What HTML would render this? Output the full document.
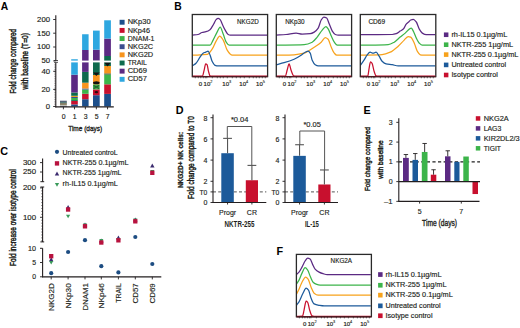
<!DOCTYPE html>
<html><head><meta charset="utf-8"><style>
html,body{margin:0;padding:0;background:#fff;}
svg{display:block;font-family:"Liberation Sans", sans-serif;}
</style></head><body>
<svg width="520" height="328" viewBox="0 0 520 328">
<rect width="520" height="328" fill="#fff"/>
<text x="0.80" y="9.60" font-size="10.3" text-anchor="start" fill="#000" font-weight="bold" >A</text>
<rect x="60.00" y="105.80" width="6.80" height="0.70" fill="#1b2a44"/>
<rect x="60.00" y="105.20" width="6.80" height="0.60" fill="#e8e4dc"/>
<rect x="60.00" y="104.30" width="6.80" height="0.90" fill="#4a4a48"/>
<rect x="60.00" y="103.50" width="6.80" height="0.80" fill="#b5a040"/>
<rect x="60.00" y="102.50" width="6.80" height="1.00" fill="#2a2f3a"/>
<rect x="60.00" y="101.80" width="6.80" height="0.70" fill="#1f6a5a"/>
<rect x="60.00" y="100.75" width="6.80" height="1.05" fill="#3a4660"/>
<rect x="71.20" y="104.40" width="6.60" height="2.10" fill="#1d4f8b"/>
<rect x="71.20" y="101.00" width="6.60" height="3.40" fill="#c8102e"/>
<rect x="71.20" y="100.10" width="6.60" height="0.90" fill="#0e6a4d"/>
<rect x="71.20" y="98.00" width="6.60" height="2.10" fill="#3cb44a"/>
<rect x="71.20" y="97.00" width="6.60" height="1.00" fill="#3b4d8f"/>
<rect x="71.20" y="95.80" width="6.60" height="1.20" fill="#e8a020"/>
<rect x="71.20" y="92.50" width="6.60" height="3.30" fill="#0e6a4d"/>
<rect x="71.20" y="74.70" width="6.60" height="17.80" fill="#5b2a83"/>
<rect x="71.20" y="59.25" width="6.60" height="15.45" fill="#2ea7e0"/>
<rect x="82.10" y="99.20" width="6.50" height="7.30" fill="#1d4f8b"/>
<rect x="82.10" y="93.80" width="6.50" height="5.40" fill="#c8102e"/>
<rect x="82.10" y="89.50" width="6.50" height="4.30" fill="#3cb44a"/>
<rect x="82.10" y="88.50" width="6.50" height="1.00" fill="#3b4d8f"/>
<rect x="82.10" y="82.70" width="6.50" height="5.80" fill="#f7941d"/>
<rect x="82.10" y="71.90" width="6.50" height="10.80" fill="#0e6a4d"/>
<rect x="82.10" y="50.00" width="6.50" height="21.90" fill="#5b2a83"/>
<rect x="82.10" y="34.25" width="6.50" height="15.75" fill="#2ea7e0"/>
<rect x="93.00" y="95.20" width="6.70" height="11.30" fill="#1d4f8b"/>
<rect x="93.00" y="89.40" width="6.70" height="5.80" fill="#c8102e"/>
<rect x="93.00" y="84.30" width="6.70" height="5.10" fill="#3cb44a"/>
<rect x="93.00" y="75.00" width="6.70" height="9.30" fill="#f7941d"/>
<rect x="93.00" y="60.60" width="6.70" height="14.40" fill="#0e6a4d"/>
<rect x="93.00" y="49.70" width="6.70" height="10.90" fill="#5b2a83"/>
<rect x="93.00" y="30.60" width="6.70" height="19.10" fill="#2ea7e0"/>
<rect x="104.20" y="93.90" width="6.70" height="12.60" fill="#1d4f8b"/>
<rect x="104.20" y="84.30" width="6.70" height="9.60" fill="#c8102e"/>
<rect x="104.20" y="74.50" width="6.70" height="9.80" fill="#3cb44a"/>
<rect x="104.20" y="73.40" width="6.70" height="1.10" fill="#2a4a30"/>
<rect x="104.20" y="66.00" width="6.70" height="7.40" fill="#f7941d"/>
<rect x="104.20" y="56.00" width="6.70" height="10.00" fill="#0e6a4d"/>
<rect x="104.20" y="38.60" width="6.70" height="17.40" fill="#5b2a83"/>
<rect x="104.20" y="20.30" width="6.70" height="18.30" fill="#2ea7e0"/>
<path d="M93,72.6 L99.7,72.6 L96.35,76.0 Z" fill="#121212"/>
<ellipse cx="96.35" cy="82.7" rx="3.3" ry="1.5" fill="#121212"/>
<path d="M93.6,85.4 L99.1,88.6 M99.1,85.4 L93.6,88.6" stroke="#1a3a22" stroke-width="1.2" opacity="0.7"/>
<ellipse cx="96.35" cy="92.1" rx="1.8" ry="1.2" fill="#2a0a10"/>
<path d="M104.2,62.6 L110.9,62.6 L107.55,66.6 Z" fill="#121212"/>
<rect x="56.50" y="60.60" width="60.00" height="1.80" fill="#fff"/>
<line x1="55.80" y1="15.30" x2="55.80" y2="60.60" stroke="#231f20" stroke-width="1.1" />
<line x1="55.80" y1="62.40" x2="55.80" y2="107.40" stroke="#231f20" stroke-width="1.1" />
<line x1="55.30" y1="106.90" x2="113.80" y2="106.90" stroke="#231f20" stroke-width="1.1" />
<line x1="54.00" y1="60.50" x2="58.00" y2="60.50" stroke="#231f20" stroke-width="0.8" />
<line x1="54.00" y1="62.30" x2="58.00" y2="62.30" stroke="#231f20" stroke-width="0.8" />
<line x1="53.20" y1="19.50" x2="55.80" y2="19.50" stroke="#231f20" stroke-width="0.9" />
<text x="50.00" y="21.95" font-size="6.9" text-anchor="end" fill="#231f20" stroke="#231f20" stroke-width="0.15" textLength="12.899999999999999" lengthAdjust="spacingAndGlyphs" >200</text>
<line x1="53.20" y1="33.20" x2="55.80" y2="33.20" stroke="#231f20" stroke-width="0.9" />
<text x="50.00" y="35.65" font-size="6.9" text-anchor="end" fill="#231f20" stroke="#231f20" stroke-width="0.15" textLength="12.899999999999999" lengthAdjust="spacingAndGlyphs" >150</text>
<line x1="53.20" y1="47.00" x2="55.80" y2="47.00" stroke="#231f20" stroke-width="0.9" />
<text x="50.00" y="49.45" font-size="6.9" text-anchor="end" fill="#231f20" stroke="#231f20" stroke-width="0.15" textLength="12.899999999999999" lengthAdjust="spacingAndGlyphs" >100</text>
<line x1="53.20" y1="60.90" x2="55.80" y2="60.90" stroke="#231f20" stroke-width="0.9" />
<text x="50.00" y="63.35" font-size="6.9" text-anchor="end" fill="#231f20" stroke="#231f20" stroke-width="0.15" textLength="8.6" lengthAdjust="spacingAndGlyphs" >50</text>
<line x1="53.20" y1="71.30" x2="55.80" y2="71.30" stroke="#231f20" stroke-width="0.9" />
<text x="50.00" y="73.75" font-size="6.9" text-anchor="end" fill="#231f20" stroke="#231f20" stroke-width="0.15" textLength="8.6" lengthAdjust="spacingAndGlyphs" >40</text>
<line x1="53.20" y1="89.40" x2="55.80" y2="89.40" stroke="#231f20" stroke-width="0.9" />
<text x="50.00" y="91.85" font-size="6.9" text-anchor="end" fill="#231f20" stroke="#231f20" stroke-width="0.15" textLength="8.6" lengthAdjust="spacingAndGlyphs" >20</text>
<line x1="53.20" y1="106.50" x2="55.80" y2="106.50" stroke="#231f20" stroke-width="0.9" />
<text x="50.00" y="108.95" font-size="6.9" text-anchor="end" fill="#231f20" stroke="#231f20" stroke-width="0.15" textLength="4.3" lengthAdjust="spacingAndGlyphs" >0</text>
<line x1="54.40" y1="104.74" x2="55.80" y2="104.74" stroke="#231f20" stroke-width="0.5" />
<line x1="54.40" y1="102.98" x2="55.80" y2="102.98" stroke="#231f20" stroke-width="0.5" />
<line x1="54.40" y1="101.22" x2="55.80" y2="101.22" stroke="#231f20" stroke-width="0.5" />
<line x1="54.40" y1="99.46" x2="55.80" y2="99.46" stroke="#231f20" stroke-width="0.5" />
<line x1="54.40" y1="97.70" x2="55.80" y2="97.70" stroke="#231f20" stroke-width="0.5" />
<line x1="54.40" y1="95.94" x2="55.80" y2="95.94" stroke="#231f20" stroke-width="0.5" />
<line x1="54.40" y1="94.18" x2="55.80" y2="94.18" stroke="#231f20" stroke-width="0.5" />
<line x1="54.40" y1="92.42" x2="55.80" y2="92.42" stroke="#231f20" stroke-width="0.5" />
<line x1="54.40" y1="90.66" x2="55.80" y2="90.66" stroke="#231f20" stroke-width="0.5" />
<line x1="54.40" y1="88.90" x2="55.80" y2="88.90" stroke="#231f20" stroke-width="0.5" />
<line x1="54.40" y1="87.14" x2="55.80" y2="87.14" stroke="#231f20" stroke-width="0.5" />
<line x1="54.40" y1="85.38" x2="55.80" y2="85.38" stroke="#231f20" stroke-width="0.5" />
<line x1="54.40" y1="83.62" x2="55.80" y2="83.62" stroke="#231f20" stroke-width="0.5" />
<line x1="54.40" y1="81.86" x2="55.80" y2="81.86" stroke="#231f20" stroke-width="0.5" />
<line x1="54.40" y1="80.10" x2="55.80" y2="80.10" stroke="#231f20" stroke-width="0.5" />
<line x1="54.40" y1="78.34" x2="55.80" y2="78.34" stroke="#231f20" stroke-width="0.5" />
<line x1="54.40" y1="76.58" x2="55.80" y2="76.58" stroke="#231f20" stroke-width="0.5" />
<line x1="54.40" y1="74.82" x2="55.80" y2="74.82" stroke="#231f20" stroke-width="0.5" />
<line x1="54.40" y1="73.06" x2="55.80" y2="73.06" stroke="#231f20" stroke-width="0.5" />
<line x1="54.40" y1="71.30" x2="55.80" y2="71.30" stroke="#231f20" stroke-width="0.5" />
<line x1="54.40" y1="69.54" x2="55.80" y2="69.54" stroke="#231f20" stroke-width="0.5" />
<line x1="54.40" y1="67.78" x2="55.80" y2="67.78" stroke="#231f20" stroke-width="0.5" />
<line x1="54.40" y1="66.02" x2="55.80" y2="66.02" stroke="#231f20" stroke-width="0.5" />
<line x1="54.40" y1="64.26" x2="55.80" y2="64.26" stroke="#231f20" stroke-width="0.5" />
<line x1="63.40" y1="106.90" x2="63.40" y2="109.30" stroke="#231f20" stroke-width="0.9" />
<text x="63.60" y="119.20" font-size="6.9" text-anchor="middle" fill="#231f20" stroke="#231f20" stroke-width="0.15" >0</text>
<line x1="74.50" y1="106.90" x2="74.50" y2="109.30" stroke="#231f20" stroke-width="0.9" />
<text x="74.70" y="119.20" font-size="6.9" text-anchor="middle" fill="#231f20" stroke="#231f20" stroke-width="0.15" >1</text>
<line x1="85.35" y1="106.90" x2="85.35" y2="109.30" stroke="#231f20" stroke-width="0.9" />
<text x="85.55" y="119.20" font-size="6.9" text-anchor="middle" fill="#231f20" stroke="#231f20" stroke-width="0.15" >3</text>
<line x1="96.35" y1="106.90" x2="96.35" y2="109.30" stroke="#231f20" stroke-width="0.9" />
<text x="96.55" y="119.20" font-size="6.9" text-anchor="middle" fill="#231f20" stroke="#231f20" stroke-width="0.15" >5</text>
<line x1="107.55" y1="106.90" x2="107.55" y2="109.30" stroke="#231f20" stroke-width="0.9" />
<text x="107.75" y="119.20" font-size="6.9" text-anchor="middle" fill="#231f20" stroke="#231f20" stroke-width="0.15" >7</text>
<text x="85.20" y="131.00" font-size="8.1" text-anchor="middle" fill="#231f20" stroke="#231f20" stroke-width="0.35" textLength="34" lengthAdjust="spacingAndGlyphs" >Time (days)</text>
<text x="16.00" y="61.25" font-size="8.6" text-anchor="middle" fill="#231f20" stroke="#231f20" stroke-width="0.45" textLength="64.7" lengthAdjust="spacingAndGlyphs" transform="rotate(-90 16.00 61.25)" >Fold change compared</text>
<text x="27.60" y="61.25" font-size="8.6" text-anchor="middle" fill="#231f20" stroke="#231f20" stroke-width="0.45" textLength="56.5" lengthAdjust="spacingAndGlyphs" transform="rotate(-90 27.60 61.25)" >with baseline (T=0)</text>
<rect x="119.60" y="19.80" width="5.00" height="4.90" fill="#1d4f8b"/>
<text x="127.70" y="24.35" font-size="6.6" text-anchor="start" fill="#231f20" stroke="#231f20" stroke-width="0.15" textLength="22.9" lengthAdjust="spacingAndGlyphs" >NKp30</text>
<rect x="119.60" y="27.95" width="5.00" height="4.90" fill="#c8102e"/>
<text x="127.70" y="32.50" font-size="6.6" text-anchor="start" fill="#231f20" stroke="#231f20" stroke-width="0.15" textLength="22.3" lengthAdjust="spacingAndGlyphs" >NKp46</text>
<rect x="119.60" y="36.10" width="5.00" height="4.90" fill="#3cb44a"/>
<text x="127.70" y="40.65" font-size="6.6" text-anchor="start" fill="#231f20" stroke="#231f20" stroke-width="0.15" textLength="26.7" lengthAdjust="spacingAndGlyphs" >DNAM-1</text>
<rect x="119.60" y="44.25" width="5.00" height="4.90" fill="#3b4d8f"/>
<text x="127.70" y="48.80" font-size="6.6" text-anchor="start" fill="#231f20" stroke="#231f20" stroke-width="0.15" textLength="25.4" lengthAdjust="spacingAndGlyphs" >NKG2C</text>
<rect x="119.60" y="52.40" width="5.00" height="4.90" fill="#f7941d"/>
<text x="127.70" y="56.95" font-size="6.6" text-anchor="start" fill="#231f20" stroke="#231f20" stroke-width="0.15" textLength="25.4" lengthAdjust="spacingAndGlyphs" >NKG2D</text>
<rect x="119.60" y="60.55" width="5.00" height="4.90" fill="#0e6a4d"/>
<text x="127.70" y="65.10" font-size="6.6" text-anchor="start" fill="#231f20" stroke="#231f20" stroke-width="0.15" textLength="19.2" lengthAdjust="spacingAndGlyphs" >TRAIL</text>
<rect x="119.60" y="68.70" width="5.00" height="4.90" fill="#5b2a83"/>
<text x="127.70" y="73.25" font-size="6.6" text-anchor="start" fill="#231f20" stroke="#231f20" stroke-width="0.15" textLength="19.2" lengthAdjust="spacingAndGlyphs" >CD69</text>
<rect x="119.60" y="76.85" width="5.00" height="4.90" fill="#2ea7e0"/>
<text x="127.70" y="81.40" font-size="6.6" text-anchor="start" fill="#231f20" stroke="#231f20" stroke-width="0.15" textLength="19.2" lengthAdjust="spacingAndGlyphs" >CD57</text>
<text x="174.30" y="9.85" font-size="10.3" text-anchor="start" fill="#000" font-weight="bold" >B</text>
<path d="M192.40,35.10 C194.27,34.90 196.13,34.84 198.00,34.50 C199.33,34.26 200.67,32.88 202.00,32.50 C203.33,32.12 204.67,32.08 206.00,31.70 C207.33,31.32 208.67,30.71 210.00,29.70 C211.23,28.76 212.47,26.08 213.70,24.00 C214.50,22.65 215.30,20.31 216.10,19.60 C216.77,19.01 217.43,18.40 218.10,18.40 C218.80,18.40 219.50,18.96 220.20,19.60 C220.87,20.21 221.53,22.59 222.20,24.00 C223.20,26.12 224.20,28.40 225.20,30.10 C226.20,31.80 227.20,34.02 228.20,34.50 C228.87,34.82 229.53,35.10 230.20,35.10 C242.47,35.10 254.73,35.10 267.00,35.10" fill="none" stroke="#5b2a83" stroke-width="1.25" stroke-linejoin="round"/>
<path d="M192.40,45.20 C198.30,45.20 204.20,45.20 210.10,45.20 C211.10,45.20 212.10,41.93 213.10,40.10 C214.43,37.66 215.77,34.47 217.10,32.10 C218.13,30.26 219.17,27.10 220.20,27.10 C221.20,27.10 222.20,31.60 223.20,34.10 C224.20,36.60 225.20,40.74 226.20,42.20 C227.20,43.66 228.20,45.20 229.20,45.20 C241.80,45.20 254.40,45.20 267.00,45.20" fill="none" stroke="#3cb44a" stroke-width="1.25" stroke-linejoin="round"/>
<path d="M192.40,55.20 C197.30,54.93 202.20,54.99 207.10,54.40 C208.77,54.20 210.43,51.52 212.10,49.20 C213.43,47.35 214.77,43.29 216.10,41.10 C217.30,39.13 218.50,36.10 219.70,36.10 C220.87,36.10 222.03,38.28 223.20,40.10 C224.53,42.18 225.87,48.09 227.20,50.20 C228.53,52.31 229.87,54.38 231.20,54.80 C231.87,55.01 232.53,55.20 233.20,55.20 C244.47,55.20 255.73,55.20 267.00,55.20" fill="none" stroke="#f7a21b" stroke-width="1.25" stroke-linejoin="round"/>
<path d="M192.40,65.90 C193.60,65.03 194.80,64.47 196.00,63.30 C197.33,62.00 198.67,59.06 200.00,57.20 C201.03,55.76 202.07,53.80 203.10,53.20 C203.97,52.69 204.83,52.55 205.70,52.20 C206.50,51.88 207.30,51.20 208.10,51.20 C208.77,51.20 209.43,53.60 210.10,55.20 C210.77,56.80 211.43,59.92 212.10,61.20 C213.10,63.13 214.10,64.95 215.10,65.30 C216.10,65.65 217.10,65.90 218.10,65.90 C234.40,65.90 250.70,65.90 267.00,65.90" fill="none" stroke="#1c5a9a" stroke-width="1.25" stroke-linejoin="round"/>
<path d="M192.40,76.20 C195.77,76.13 199.13,76.17 202.50,76.00 C203.03,75.97 203.57,72.31 204.10,70.30 C204.63,68.29 205.17,63.90 205.70,63.90 C206.17,63.90 206.63,64.22 207.10,64.70 C207.57,65.18 208.03,69.62 208.50,71.30 C209.03,73.22 209.57,75.74 210.10,75.90 C210.73,76.09 211.37,76.20 212.00,76.20 C230.33,76.20 248.67,76.20 267.00,76.20" fill="none" stroke="#c8102e" stroke-width="1.25" stroke-linejoin="round"/>
<rect x="192.30" y="14.50" width="75.30" height="62.10" fill="none" stroke="#2a2a2a" stroke-width="1.3"/>
<line x1="192.30" y1="76.60" x2="267.60" y2="76.60" stroke="#5a1822" stroke-width="1.4" />
<text x="237.10" y="23.80" font-size="6.3" text-anchor="start" fill="#231f20" stroke="#231f20" stroke-width="0.15" textLength="21.6" lengthAdjust="spacingAndGlyphs" >NKG2D</text>
<path d="M276.00,35.10 C279.33,34.90 282.67,34.78 286.00,34.50 C289.37,34.22 292.73,33.10 296.10,33.10 C298.10,33.10 300.10,34.10 302.10,34.10 C304.80,34.10 307.50,33.96 310.20,33.70 C311.53,33.57 312.87,32.86 314.20,32.10 C315.53,31.34 316.87,30.09 318.20,28.10 C319.20,26.61 320.20,21.60 321.20,20.00 C322.07,18.61 322.93,17.00 323.80,17.00 C324.77,17.00 325.73,17.41 326.70,18.00 C327.57,18.53 328.43,22.07 329.30,24.10 C330.30,26.44 331.30,29.57 332.30,31.10 C333.30,32.63 334.30,34.16 335.30,34.50 C336.30,34.84 337.30,35.10 338.30,35.10 C342.53,35.10 346.77,35.10 351.00,35.10" fill="none" stroke="#5b2a83" stroke-width="1.25" stroke-linejoin="round"/>
<path d="M276.00,45.20 C285.40,45.00 294.80,45.05 304.20,44.60 C306.87,44.47 309.53,43.49 312.20,42.20 C313.87,41.39 315.53,39.07 317.20,37.10 C318.87,35.13 320.53,32.00 322.20,30.10 C323.43,28.70 324.67,26.50 325.90,26.50 C326.70,26.50 327.50,27.93 328.30,29.10 C329.30,30.56 330.30,33.93 331.30,36.10 C332.30,38.27 333.30,40.86 334.30,42.20 C335.30,43.54 336.30,45.20 337.30,45.20 C341.87,45.20 346.43,45.20 351.00,45.20" fill="none" stroke="#3cb44a" stroke-width="1.25" stroke-linejoin="round"/>
<path d="M276.00,55.20 C282.03,55.07 288.07,55.05 294.10,54.80 C297.47,54.66 300.83,54.04 304.20,53.20 C307.53,52.36 310.87,49.39 314.20,47.20 C316.53,45.67 318.87,44.26 321.20,42.20 C322.57,41.00 323.93,37.70 325.30,37.70 C326.17,37.70 327.03,38.36 327.90,39.10 C329.03,40.07 330.17,44.74 331.30,47.20 C332.30,49.37 333.30,52.04 334.30,53.20 C335.10,54.13 335.90,55.20 336.70,55.20 C341.47,55.20 346.23,55.20 351.00,55.20" fill="none" stroke="#f7a21b" stroke-width="1.25" stroke-linejoin="round"/>
<path d="M276.00,64.70 C278.70,64.03 281.40,63.48 284.10,62.70 C287.43,61.74 290.77,60.67 294.10,59.20 C296.43,58.17 298.77,56.71 301.10,55.20 C302.47,54.31 303.83,52.81 305.20,52.20 C306.20,51.75 307.20,51.20 308.20,51.20 C308.87,51.20 309.53,52.16 310.20,53.20 C310.87,54.24 311.53,58.76 312.20,60.20 C313.20,62.36 314.20,64.07 315.20,64.70 C316.20,65.33 317.20,65.90 318.20,65.90 C329.13,65.90 340.07,65.90 351.00,65.90" fill="none" stroke="#1c5a9a" stroke-width="1.25" stroke-linejoin="round"/>
<path d="M276.00,76.20 C279.17,76.13 282.33,76.17 285.50,76.00 C286.03,75.97 286.57,72.10 287.10,70.30 C287.77,68.05 288.43,63.90 289.10,63.90 C289.77,63.90 290.43,68.57 291.10,70.30 C291.97,72.55 292.83,75.69 293.70,75.90 C294.47,76.09 295.23,76.20 296.00,76.20 C314.33,76.20 332.67,76.20 351.00,76.20" fill="none" stroke="#c8102e" stroke-width="1.25" stroke-linejoin="round"/>
<rect x="276.30" y="14.50" width="75.30" height="62.10" fill="none" stroke="#2a2a2a" stroke-width="1.3"/>
<line x1="276.30" y1="76.60" x2="351.60" y2="76.60" stroke="#5a1822" stroke-width="1.4" />
<text x="285.20" y="23.80" font-size="6.3" text-anchor="start" fill="#231f20" stroke="#231f20" stroke-width="0.15" textLength="19.4" lengthAdjust="spacingAndGlyphs" >NKp30</text>
<path d="M360.40,34.70 C371.00,34.63 381.60,34.67 392.20,34.50 C393.53,34.48 394.87,34.11 396.20,33.70 C397.53,33.29 398.87,32.01 400.20,31.10 C401.40,30.28 402.60,29.78 403.80,28.50 C404.60,27.65 405.40,25.02 406.20,24.10 C407.03,23.14 407.87,22.76 408.70,22.00 C409.37,21.39 410.03,20.26 410.70,20.00 C411.57,19.67 412.43,19.40 413.30,19.40 C414.30,19.40 415.30,20.73 416.30,22.00 C417.30,23.27 418.30,27.39 419.30,29.10 C420.30,30.81 421.30,32.47 422.30,33.10 C423.63,33.94 424.97,34.70 426.30,34.70 C429.27,34.70 432.23,34.70 435.20,34.70" fill="none" stroke="#5b2a83" stroke-width="1.25" stroke-linejoin="round"/>
<path d="M360.40,45.20 C369.67,45.00 378.93,45.07 388.20,44.60 C390.20,44.50 392.20,43.29 394.20,42.20 C396.20,41.11 398.20,38.75 400.20,37.10 C401.87,35.73 403.53,34.57 405.20,33.10 C406.57,31.89 407.93,29.97 409.30,29.10 C409.97,28.67 410.63,28.10 411.30,28.10 C411.97,28.10 412.63,29.90 413.30,31.10 C414.30,32.90 415.30,36.13 416.30,38.10 C417.30,40.07 418.30,42.24 419.30,43.20 C420.30,44.16 421.30,45.20 422.30,45.20 C426.60,45.20 430.90,45.20 435.20,45.20" fill="none" stroke="#3cb44a" stroke-width="1.25" stroke-linejoin="round"/>
<path d="M360.40,55.20 C367.63,55.00 374.87,55.02 382.10,54.60 C384.80,54.44 387.50,53.35 390.20,52.20 C392.87,51.07 395.53,48.52 398.20,46.20 C400.20,44.46 402.20,41.98 404.20,40.10 C405.57,38.82 406.93,36.50 408.30,36.50 C409.10,36.50 409.90,36.77 410.70,37.10 C411.90,37.60 413.10,40.70 414.30,43.20 C415.30,45.29 416.30,49.54 417.30,51.20 C418.30,52.86 419.30,54.56 420.30,54.80 C421.30,55.04 422.30,55.20 423.30,55.20 C427.27,55.20 431.23,55.20 435.20,55.20" fill="none" stroke="#f7a21b" stroke-width="1.25" stroke-linejoin="round"/>
<path d="M360.40,65.30 C361.60,63.60 362.80,62.04 364.00,60.20 C365.00,58.66 366.00,56.43 367.00,55.20 C368.03,53.93 369.07,52.20 370.10,52.20 C371.10,52.20 372.10,53.20 373.10,53.20 C374.10,53.20 375.10,52.20 376.10,52.20 C377.10,52.20 378.10,54.72 379.10,56.20 C380.10,57.68 381.10,60.22 382.10,61.20 C383.43,62.51 384.77,63.59 386.10,63.90 C388.13,64.37 390.17,64.38 392.20,64.70 C394.20,65.02 396.20,65.90 398.20,65.90 C410.53,65.90 422.87,65.90 435.20,65.90" fill="none" stroke="#1c5a9a" stroke-width="1.25" stroke-linejoin="round"/>
<path d="M360.40,76.20 C362.87,76.13 365.33,76.17 367.80,76.00 C368.23,75.97 368.67,70.56 369.10,68.30 C369.57,65.87 370.03,61.80 370.50,61.80 C371.03,61.80 371.57,62.51 372.10,63.30 C372.77,64.29 373.43,69.35 374.10,71.30 C374.77,73.25 375.43,75.70 376.10,75.90 C376.73,76.09 377.37,76.20 378.00,76.20 C397.07,76.20 416.13,76.20 435.20,76.20" fill="none" stroke="#c8102e" stroke-width="1.25" stroke-linejoin="round"/>
<rect x="360.30" y="14.50" width="75.50" height="62.10" fill="none" stroke="#2a2a2a" stroke-width="1.3"/>
<line x1="360.30" y1="76.60" x2="435.80" y2="76.60" stroke="#5a1822" stroke-width="1.4" />
<text x="368.40" y="23.80" font-size="6.3" text-anchor="start" fill="#231f20" stroke="#231f20" stroke-width="0.15" textLength="16.7" lengthAdjust="spacingAndGlyphs" >CD69</text>
<line x1="195.30" y1="76.60" x2="195.30" y2="78.30" stroke="#231f20" stroke-width="0.6" />
<line x1="198.30" y1="76.60" x2="198.30" y2="78.30" stroke="#231f20" stroke-width="0.6" />
<line x1="200.80" y1="76.60" x2="200.80" y2="78.30" stroke="#231f20" stroke-width="0.6" />
<line x1="203.30" y1="76.60" x2="203.30" y2="78.30" stroke="#231f20" stroke-width="0.6" />
<line x1="205.30" y1="76.60" x2="205.30" y2="78.30" stroke="#231f20" stroke-width="0.6" />
<line x1="206.80" y1="76.60" x2="206.80" y2="78.30" stroke="#231f20" stroke-width="0.6" />
<line x1="212.30" y1="76.60" x2="212.30" y2="78.30" stroke="#231f20" stroke-width="0.6" />
<line x1="217.30" y1="76.60" x2="217.30" y2="78.30" stroke="#231f20" stroke-width="0.6" />
<line x1="220.30" y1="76.60" x2="220.30" y2="78.30" stroke="#231f20" stroke-width="0.6" />
<line x1="223.30" y1="76.60" x2="223.30" y2="78.30" stroke="#231f20" stroke-width="0.6" />
<line x1="227.30" y1="76.60" x2="227.30" y2="78.30" stroke="#231f20" stroke-width="0.6" />
<line x1="232.30" y1="76.60" x2="232.30" y2="78.30" stroke="#231f20" stroke-width="0.6" />
<line x1="236.30" y1="76.60" x2="236.30" y2="78.30" stroke="#231f20" stroke-width="0.6" />
<line x1="240.30" y1="76.60" x2="240.30" y2="78.30" stroke="#231f20" stroke-width="0.6" />
<line x1="244.30" y1="76.60" x2="244.30" y2="78.30" stroke="#231f20" stroke-width="0.6" />
<line x1="249.30" y1="76.60" x2="249.30" y2="78.30" stroke="#231f20" stroke-width="0.6" />
<line x1="253.30" y1="76.60" x2="253.30" y2="78.30" stroke="#231f20" stroke-width="0.6" />
<line x1="256.30" y1="76.60" x2="256.30" y2="78.30" stroke="#231f20" stroke-width="0.6" />
<line x1="259.30" y1="76.60" x2="259.30" y2="78.30" stroke="#231f20" stroke-width="0.6" />
<line x1="262.30" y1="76.60" x2="262.30" y2="78.30" stroke="#231f20" stroke-width="0.6" />
<line x1="265.30" y1="76.60" x2="265.30" y2="78.30" stroke="#231f20" stroke-width="0.6" />
<text x="198.80" y="85.50" font-size="6.0" fill="#231f20" stroke="#231f20" stroke-width="0.2">0</text>
<text x="203.60" y="85.50" font-size="6.0" fill="#231f20" stroke="#231f20" stroke-width="0.2">10<tspan font-size="3.9" dy="-2.7" stroke-width="0.1">2</tspan></text>
<text x="222.30" y="85.50" font-size="6.0" fill="#231f20" stroke="#231f20" stroke-width="0.2">10<tspan font-size="3.9" dy="-2.7" stroke-width="0.1">3</tspan></text>
<text x="239.30" y="85.50" font-size="6.0" fill="#231f20" stroke="#231f20" stroke-width="0.2">10<tspan font-size="3.9" dy="-2.7" stroke-width="0.1">4</tspan></text>
<text x="256.10" y="85.50" font-size="6.0" fill="#231f20" stroke="#231f20" stroke-width="0.2">10<tspan font-size="3.9" dy="-2.7" stroke-width="0.1">5</tspan></text>
<line x1="279.30" y1="76.60" x2="279.30" y2="78.30" stroke="#231f20" stroke-width="0.6" />
<line x1="282.30" y1="76.60" x2="282.30" y2="78.30" stroke="#231f20" stroke-width="0.6" />
<line x1="284.80" y1="76.60" x2="284.80" y2="78.30" stroke="#231f20" stroke-width="0.6" />
<line x1="287.30" y1="76.60" x2="287.30" y2="78.30" stroke="#231f20" stroke-width="0.6" />
<line x1="289.30" y1="76.60" x2="289.30" y2="78.30" stroke="#231f20" stroke-width="0.6" />
<line x1="290.80" y1="76.60" x2="290.80" y2="78.30" stroke="#231f20" stroke-width="0.6" />
<line x1="296.30" y1="76.60" x2="296.30" y2="78.30" stroke="#231f20" stroke-width="0.6" />
<line x1="301.30" y1="76.60" x2="301.30" y2="78.30" stroke="#231f20" stroke-width="0.6" />
<line x1="304.30" y1="76.60" x2="304.30" y2="78.30" stroke="#231f20" stroke-width="0.6" />
<line x1="307.30" y1="76.60" x2="307.30" y2="78.30" stroke="#231f20" stroke-width="0.6" />
<line x1="311.30" y1="76.60" x2="311.30" y2="78.30" stroke="#231f20" stroke-width="0.6" />
<line x1="316.30" y1="76.60" x2="316.30" y2="78.30" stroke="#231f20" stroke-width="0.6" />
<line x1="320.30" y1="76.60" x2="320.30" y2="78.30" stroke="#231f20" stroke-width="0.6" />
<line x1="324.30" y1="76.60" x2="324.30" y2="78.30" stroke="#231f20" stroke-width="0.6" />
<line x1="328.30" y1="76.60" x2="328.30" y2="78.30" stroke="#231f20" stroke-width="0.6" />
<line x1="333.30" y1="76.60" x2="333.30" y2="78.30" stroke="#231f20" stroke-width="0.6" />
<line x1="337.30" y1="76.60" x2="337.30" y2="78.30" stroke="#231f20" stroke-width="0.6" />
<line x1="340.30" y1="76.60" x2="340.30" y2="78.30" stroke="#231f20" stroke-width="0.6" />
<line x1="343.30" y1="76.60" x2="343.30" y2="78.30" stroke="#231f20" stroke-width="0.6" />
<line x1="346.30" y1="76.60" x2="346.30" y2="78.30" stroke="#231f20" stroke-width="0.6" />
<line x1="349.30" y1="76.60" x2="349.30" y2="78.30" stroke="#231f20" stroke-width="0.6" />
<text x="282.80" y="85.50" font-size="6.0" fill="#231f20" stroke="#231f20" stroke-width="0.2">0</text>
<text x="287.60" y="85.50" font-size="6.0" fill="#231f20" stroke="#231f20" stroke-width="0.2">10<tspan font-size="3.9" dy="-2.7" stroke-width="0.1">2</tspan></text>
<text x="306.30" y="85.50" font-size="6.0" fill="#231f20" stroke="#231f20" stroke-width="0.2">10<tspan font-size="3.9" dy="-2.7" stroke-width="0.1">3</tspan></text>
<text x="323.30" y="85.50" font-size="6.0" fill="#231f20" stroke="#231f20" stroke-width="0.2">10<tspan font-size="3.9" dy="-2.7" stroke-width="0.1">4</tspan></text>
<text x="340.10" y="85.50" font-size="6.0" fill="#231f20" stroke="#231f20" stroke-width="0.2">10<tspan font-size="3.9" dy="-2.7" stroke-width="0.1">5</tspan></text>
<line x1="363.30" y1="76.60" x2="363.30" y2="78.30" stroke="#231f20" stroke-width="0.6" />
<line x1="366.30" y1="76.60" x2="366.30" y2="78.30" stroke="#231f20" stroke-width="0.6" />
<line x1="368.80" y1="76.60" x2="368.80" y2="78.30" stroke="#231f20" stroke-width="0.6" />
<line x1="371.30" y1="76.60" x2="371.30" y2="78.30" stroke="#231f20" stroke-width="0.6" />
<line x1="373.30" y1="76.60" x2="373.30" y2="78.30" stroke="#231f20" stroke-width="0.6" />
<line x1="374.80" y1="76.60" x2="374.80" y2="78.30" stroke="#231f20" stroke-width="0.6" />
<line x1="380.30" y1="76.60" x2="380.30" y2="78.30" stroke="#231f20" stroke-width="0.6" />
<line x1="385.30" y1="76.60" x2="385.30" y2="78.30" stroke="#231f20" stroke-width="0.6" />
<line x1="388.30" y1="76.60" x2="388.30" y2="78.30" stroke="#231f20" stroke-width="0.6" />
<line x1="391.30" y1="76.60" x2="391.30" y2="78.30" stroke="#231f20" stroke-width="0.6" />
<line x1="395.30" y1="76.60" x2="395.30" y2="78.30" stroke="#231f20" stroke-width="0.6" />
<line x1="400.30" y1="76.60" x2="400.30" y2="78.30" stroke="#231f20" stroke-width="0.6" />
<line x1="404.30" y1="76.60" x2="404.30" y2="78.30" stroke="#231f20" stroke-width="0.6" />
<line x1="408.30" y1="76.60" x2="408.30" y2="78.30" stroke="#231f20" stroke-width="0.6" />
<line x1="412.30" y1="76.60" x2="412.30" y2="78.30" stroke="#231f20" stroke-width="0.6" />
<line x1="417.30" y1="76.60" x2="417.30" y2="78.30" stroke="#231f20" stroke-width="0.6" />
<line x1="421.30" y1="76.60" x2="421.30" y2="78.30" stroke="#231f20" stroke-width="0.6" />
<line x1="424.30" y1="76.60" x2="424.30" y2="78.30" stroke="#231f20" stroke-width="0.6" />
<line x1="427.30" y1="76.60" x2="427.30" y2="78.30" stroke="#231f20" stroke-width="0.6" />
<line x1="430.30" y1="76.60" x2="430.30" y2="78.30" stroke="#231f20" stroke-width="0.6" />
<line x1="433.30" y1="76.60" x2="433.30" y2="78.30" stroke="#231f20" stroke-width="0.6" />
<text x="366.80" y="85.50" font-size="6.0" fill="#231f20" stroke="#231f20" stroke-width="0.2">0</text>
<text x="371.60" y="85.50" font-size="6.0" fill="#231f20" stroke="#231f20" stroke-width="0.2">10<tspan font-size="3.9" dy="-2.7" stroke-width="0.1">2</tspan></text>
<text x="390.30" y="85.50" font-size="6.0" fill="#231f20" stroke="#231f20" stroke-width="0.2">10<tspan font-size="3.9" dy="-2.7" stroke-width="0.1">3</tspan></text>
<text x="407.30" y="85.50" font-size="6.0" fill="#231f20" stroke="#231f20" stroke-width="0.2">10<tspan font-size="3.9" dy="-2.7" stroke-width="0.1">4</tspan></text>
<text x="424.10" y="85.50" font-size="6.0" fill="#231f20" stroke="#231f20" stroke-width="0.2">10<tspan font-size="3.9" dy="-2.7" stroke-width="0.1">5</tspan></text>
<rect x="443.90" y="32.45" width="4.50" height="4.60" fill="#5b2a83"/>
<text x="451.40" y="36.75" font-size="6.6" text-anchor="start" fill="#231f20" stroke="#231f20" stroke-width="0.15" textLength="55.9" lengthAdjust="spacingAndGlyphs" >rh-IL15 0.1µg/mL</text>
<rect x="443.90" y="42.40" width="4.50" height="4.60" fill="#3cb44a"/>
<text x="451.40" y="46.70" font-size="6.6" text-anchor="start" fill="#231f20" stroke="#231f20" stroke-width="0.15" textLength="61.8" lengthAdjust="spacingAndGlyphs" >NKTR-255 1µg/mL</text>
<rect x="443.90" y="52.30" width="4.50" height="4.60" fill="#f7a21b"/>
<text x="451.40" y="56.60" font-size="6.6" text-anchor="start" fill="#231f20" stroke="#231f20" stroke-width="0.15" textLength="67.0" lengthAdjust="spacingAndGlyphs" >NKTR-255 0.1µg/mL</text>
<rect x="443.90" y="62.60" width="4.50" height="4.60" fill="#1c5a9a"/>
<text x="451.40" y="66.90" font-size="6.6" text-anchor="start" fill="#231f20" stroke="#231f20" stroke-width="0.15" textLength="54.8" lengthAdjust="spacingAndGlyphs" >Untreated control</text>
<rect x="443.90" y="72.70" width="4.50" height="4.60" fill="#c8102e"/>
<text x="451.40" y="77.00" font-size="6.6" text-anchor="start" fill="#231f20" stroke="#231f20" stroke-width="0.15" textLength="46.4" lengthAdjust="spacingAndGlyphs" >Isotype control</text>
<text x="0.30" y="154.60" font-size="10.8" text-anchor="start" fill="#000" font-weight="bold" >C</text>
<line x1="42.60" y1="158.40" x2="42.60" y2="181.70" stroke="#231f20" stroke-width="1.1" />
<line x1="40.40" y1="181.70" x2="44.20" y2="181.70" stroke="#231f20" stroke-width="1.0" />
<line x1="42.60" y1="187.00" x2="42.60" y2="241.90" stroke="#231f20" stroke-width="1.1" />
<line x1="40.40" y1="187.00" x2="44.20" y2="187.00" stroke="#231f20" stroke-width="1.0" />
<line x1="40.40" y1="241.90" x2="44.20" y2="241.90" stroke="#231f20" stroke-width="1.0" />
<line x1="42.60" y1="248.30" x2="42.60" y2="277.30" stroke="#231f20" stroke-width="1.1" />
<line x1="40.00" y1="248.30" x2="42.60" y2="248.30" stroke="#231f20" stroke-width="1.0" />
<line x1="42.10" y1="276.80" x2="161.30" y2="276.80" stroke="#231f20" stroke-width="1.2" />
<line x1="40.00" y1="162.60" x2="42.60" y2="162.60" stroke="#231f20" stroke-width="0.9" />
<text x="36.10" y="165.05" font-size="6.9" text-anchor="end" fill="#231f20" stroke="#231f20" stroke-width="0.15" textLength="13.1" lengthAdjust="spacingAndGlyphs" >300</text>
<line x1="40.00" y1="172.00" x2="42.60" y2="172.00" stroke="#231f20" stroke-width="0.9" />
<text x="36.10" y="174.45" font-size="6.9" text-anchor="end" fill="#231f20" stroke="#231f20" stroke-width="0.15" textLength="13.1" lengthAdjust="spacingAndGlyphs" >250</text>
<line x1="40.00" y1="187.90" x2="42.60" y2="187.90" stroke="#231f20" stroke-width="0.9" />
<text x="36.10" y="190.35" font-size="6.9" text-anchor="end" fill="#231f20" stroke="#231f20" stroke-width="0.15" textLength="13.1" lengthAdjust="spacingAndGlyphs" >200</text>
<line x1="40.00" y1="217.30" x2="42.60" y2="217.30" stroke="#231f20" stroke-width="0.9" />
<text x="36.10" y="219.75" font-size="6.9" text-anchor="end" fill="#231f20" stroke="#231f20" stroke-width="0.15" textLength="13.1" lengthAdjust="spacingAndGlyphs" >100</text>
<line x1="41.10" y1="214.36" x2="42.60" y2="214.36" stroke="#231f20" stroke-width="0.5" />
<line x1="41.10" y1="211.42" x2="42.60" y2="211.42" stroke="#231f20" stroke-width="0.5" />
<line x1="41.10" y1="208.48" x2="42.60" y2="208.48" stroke="#231f20" stroke-width="0.5" />
<line x1="41.10" y1="205.54" x2="42.60" y2="205.54" stroke="#231f20" stroke-width="0.5" />
<line x1="41.10" y1="202.60" x2="42.60" y2="202.60" stroke="#231f20" stroke-width="0.5" />
<line x1="41.10" y1="199.66" x2="42.60" y2="199.66" stroke="#231f20" stroke-width="0.5" />
<line x1="41.10" y1="196.72" x2="42.60" y2="196.72" stroke="#231f20" stroke-width="0.5" />
<line x1="41.10" y1="193.78" x2="42.60" y2="193.78" stroke="#231f20" stroke-width="0.5" />
<line x1="41.10" y1="190.84" x2="42.60" y2="190.84" stroke="#231f20" stroke-width="0.5" />
<line x1="41.10" y1="240.82" x2="42.60" y2="240.82" stroke="#231f20" stroke-width="0.5" />
<line x1="41.10" y1="237.88" x2="42.60" y2="237.88" stroke="#231f20" stroke-width="0.5" />
<line x1="41.10" y1="234.94" x2="42.60" y2="234.94" stroke="#231f20" stroke-width="0.5" />
<line x1="41.10" y1="232.00" x2="42.60" y2="232.00" stroke="#231f20" stroke-width="0.5" />
<line x1="41.10" y1="229.06" x2="42.60" y2="229.06" stroke="#231f20" stroke-width="0.5" />
<line x1="41.10" y1="226.12" x2="42.60" y2="226.12" stroke="#231f20" stroke-width="0.5" />
<line x1="41.10" y1="223.18" x2="42.60" y2="223.18" stroke="#231f20" stroke-width="0.5" />
<line x1="41.10" y1="220.24" x2="42.60" y2="220.24" stroke="#231f20" stroke-width="0.5" />
<line x1="40.00" y1="262.50" x2="42.60" y2="262.50" stroke="#231f20" stroke-width="0.9" />
<text x="36.10" y="264.95" font-size="6.9" text-anchor="end" fill="#231f20" stroke="#231f20" stroke-width="0.15" >5</text>
<line x1="40.00" y1="276.80" x2="42.60" y2="276.80" stroke="#231f20" stroke-width="0.9" />
<text x="36.10" y="279.25" font-size="6.9" text-anchor="end" fill="#231f20" stroke="#231f20" stroke-width="0.15" >0</text>
<text x="36.10" y="250.75" font-size="6.9" text-anchor="end" fill="#231f20" stroke="#231f20" stroke-width="0.15" textLength="8.0" lengthAdjust="spacingAndGlyphs" >10</text>
<line x1="51.20" y1="276.80" x2="51.20" y2="279.40" stroke="#231f20" stroke-width="0.9" />
<text x="53.75" y="283.20" font-size="7" text-anchor="end" fill="#231f20" stroke="#231f20" stroke-width="0.15" textLength="27.7" lengthAdjust="spacingAndGlyphs" transform="rotate(-90 53.75 283.20)" >NKG2D</text>
<line x1="68.10" y1="276.80" x2="68.10" y2="279.40" stroke="#231f20" stroke-width="0.9" />
<text x="70.65" y="283.20" font-size="7" text-anchor="end" fill="#231f20" stroke="#231f20" stroke-width="0.15" textLength="25.4" lengthAdjust="spacingAndGlyphs" transform="rotate(-90 70.65 283.20)" >NKp30</text>
<line x1="85.00" y1="276.80" x2="85.00" y2="279.40" stroke="#231f20" stroke-width="0.9" />
<text x="87.55" y="283.20" font-size="7" text-anchor="end" fill="#231f20" stroke="#231f20" stroke-width="0.15" textLength="27.3" lengthAdjust="spacingAndGlyphs" transform="rotate(-90 87.55 283.20)" >DNAM1</text>
<line x1="101.30" y1="276.80" x2="101.30" y2="279.40" stroke="#231f20" stroke-width="0.9" />
<text x="103.85" y="283.20" font-size="7" text-anchor="end" fill="#231f20" stroke="#231f20" stroke-width="0.15" textLength="25.4" lengthAdjust="spacingAndGlyphs" transform="rotate(-90 103.85 283.20)" >NKp46</text>
<line x1="118.40" y1="276.80" x2="118.40" y2="279.40" stroke="#231f20" stroke-width="0.9" />
<text x="120.95" y="283.20" font-size="7" text-anchor="end" fill="#231f20" stroke="#231f20" stroke-width="0.15" textLength="19.6" lengthAdjust="spacingAndGlyphs" transform="rotate(-90 120.95 283.20)" >TRAIL</text>
<line x1="135.30" y1="276.80" x2="135.30" y2="279.40" stroke="#231f20" stroke-width="0.9" />
<text x="137.85" y="283.20" font-size="7" text-anchor="end" fill="#231f20" stroke="#231f20" stroke-width="0.15" textLength="20.3" lengthAdjust="spacingAndGlyphs" transform="rotate(-90 137.85 283.20)" >CD57</text>
<line x1="152.30" y1="276.80" x2="152.30" y2="279.40" stroke="#231f20" stroke-width="0.9" />
<text x="154.85" y="283.20" font-size="7" text-anchor="end" fill="#231f20" stroke="#231f20" stroke-width="0.15" textLength="20.3" lengthAdjust="spacingAndGlyphs" transform="rotate(-90 154.85 283.20)" >CD69</text>
<text x="16.00" y="217.60" font-size="8.3" text-anchor="middle" fill="#231f20" stroke="#231f20" stroke-width="0.45" textLength="96.8" lengthAdjust="spacingAndGlyphs" transform="rotate(-90 16.00 217.60)" >Fold increase over isotype control</text>
<path d="M51.20,257.20 L53.40,261.20 L49.00,261.20 Z" fill="#3a2a6e"/>
<path d="M51.20,264.60 L53.30,261.00 L49.10,261.00 Z" fill="#3a9a5a"/>
<rect x="49.05" y="254.00" width="4.30" height="4.40" fill="#b8123e"/>
<circle cx="51.20" cy="273.20" r="2.1" fill="#1d4d82"/>
<path d="M68.10,205.00 L70.30,209.00 L65.90,209.00 Z" fill="#3a2a6e"/>
<path d="M68.10,218.30 L70.20,214.70 L66.00,214.70 Z" fill="#3a9a5a"/>
<rect x="65.95" y="207.30" width="4.30" height="4.40" fill="#b8123e"/>
<circle cx="68.10" cy="252.00" r="2.1" fill="#1d4d82"/>
<path d="M85.00,222.40 L87.20,226.40 L82.80,226.40 Z" fill="#3a2a6e"/>
<path d="M85.00,227.20 L87.10,223.60 L82.90,223.60 Z" fill="#3a9a5a"/>
<rect x="82.85" y="224.10" width="4.30" height="4.40" fill="#b8123e"/>
<circle cx="85.00" cy="240.20" r="2.1" fill="#1d4d82"/>
<path d="M101.30,238.40 L103.50,242.40 L99.10,242.40 Z" fill="#3a2a6e"/>
<path d="M101.30,242.50 L103.40,238.90 L99.20,238.90 Z" fill="#3a9a5a"/>
<rect x="99.15" y="240.30" width="4.30" height="4.40" fill="#b8123e"/>
<circle cx="101.30" cy="266.20" r="2.1" fill="#1d4d82"/>
<path d="M118.40,235.60 L120.60,239.60 L116.20,239.60 Z" fill="#3a2a6e"/>
<path d="M118.40,241.50 L120.50,237.90 L116.30,237.90 Z" fill="#3a9a5a"/>
<rect x="116.25" y="238.10" width="4.30" height="4.40" fill="#b8123e"/>
<circle cx="118.40" cy="272.40" r="2.1" fill="#1d4d82"/>
<path d="M135.30,217.40 L137.50,221.40 L133.10,221.40 Z" fill="#3a2a6e"/>
<path d="M135.30,222.00 L137.40,218.40 L133.20,218.40 Z" fill="#3a9a5a"/>
<rect x="133.15" y="219.10" width="4.30" height="4.40" fill="#b8123e"/>
<circle cx="135.30" cy="237.00" r="2.1" fill="#1d4d82"/>
<path d="M152.30,163.40 L154.50,167.40 L150.10,167.40 Z" fill="#3a2a6e"/>
<path d="M152.30,173.50 L154.40,169.90 L150.20,169.90 Z" fill="#3a9a5a"/>
<rect x="150.15" y="170.60" width="4.30" height="4.40" fill="#b8123e"/>
<circle cx="152.30" cy="264.00" r="2.1" fill="#1d4d82"/>
<circle cx="57.00" cy="151.80" r="2.1" fill="#1d4d82"/>
<text x="62.60" y="154.50" font-size="6.6" text-anchor="start" fill="#231f20" stroke="#231f20" stroke-width="0.15" textLength="55.1" lengthAdjust="spacingAndGlyphs" >Untreated controL</text>
<rect x="54.85" y="161.20" width="4.30" height="4.40" fill="#b8123e"/>
<text x="62.60" y="165.00" font-size="6.6" text-anchor="start" fill="#231f20" stroke="#231f20" stroke-width="0.15" textLength="65.9" lengthAdjust="spacingAndGlyphs" >NKTR-255 0.1µg/mL</text>
<path d="M57.00,171.50 L59.20,175.50 L54.80,175.50 Z" fill="#3a2a6e"/>
<text x="62.60" y="175.20" font-size="6.6" text-anchor="start" fill="#231f20" stroke="#231f20" stroke-width="0.15" textLength="58.9" lengthAdjust="spacingAndGlyphs" >NKTR-255 1µg/mL</text>
<path d="M57.00,186.70 L59.10,183.10 L54.90,183.10 Z" fill="#3a9a5a"/>
<text x="62.60" y="186.20" font-size="6.6" text-anchor="start" fill="#231f20" stroke="#231f20" stroke-width="0.15" textLength="55.1" lengthAdjust="spacingAndGlyphs" >rh-IL15 0.1µg/mL</text>
<text x="175.80" y="113.70" font-size="10.8" text-anchor="start" fill="#000" font-weight="bold" >D</text>
<line x1="213.00" y1="191.90" x2="266.30" y2="191.90" stroke="#555" stroke-width="1.0" stroke-dasharray="3,2.2"/>
<rect x="221.30" y="153.21" width="12.50" height="49.29" fill="#1c5a9a"/>
<line x1="227.55" y1="153.21" x2="227.55" y2="138.37" stroke="#555" stroke-width="1.1" />
<line x1="223.15" y1="138.37" x2="231.95" y2="138.37" stroke="#555" stroke-width="1.1" />
<rect x="245.80" y="180.24" width="12.20" height="22.26" fill="#c8102e"/>
<line x1="251.90" y1="180.24" x2="251.90" y2="165.40" stroke="#555" stroke-width="1.1" />
<line x1="247.50" y1="165.40" x2="256.30" y2="165.40" stroke="#555" stroke-width="1.1" />
<polyline points="227.3,138.2 227.3,126.5 251.8,126.5 251.8,165.5" fill="none" stroke="#555" stroke-width="1.0"/>
<text x="239.70" y="122.00" font-size="7" text-anchor="middle" fill="#231f20" stroke="#231f20" stroke-width="0.15" textLength="17.5" lengthAdjust="spacingAndGlyphs" >*0.04</text>
<line x1="213.00" y1="114.50" x2="213.00" y2="202.90" stroke="#231f20" stroke-width="1.1" />
<line x1="212.50" y1="202.50" x2="266.30" y2="202.50" stroke="#231f20" stroke-width="1.2" />
<line x1="210.50" y1="117.70" x2="213.00" y2="117.70" stroke="#231f20" stroke-width="0.9" />
<text x="207.30" y="120.60" font-size="7" text-anchor="end" fill="#231f20" stroke="#231f20" stroke-width="0.15" >8</text>
<line x1="210.50" y1="138.90" x2="213.00" y2="138.90" stroke="#231f20" stroke-width="0.9" />
<text x="207.30" y="141.80" font-size="7" text-anchor="end" fill="#231f20" stroke="#231f20" stroke-width="0.15" >6</text>
<line x1="210.50" y1="160.10" x2="213.00" y2="160.10" stroke="#231f20" stroke-width="0.9" />
<text x="207.30" y="163.00" font-size="7" text-anchor="end" fill="#231f20" stroke="#231f20" stroke-width="0.15" >4</text>
<line x1="210.50" y1="181.30" x2="213.00" y2="181.30" stroke="#231f20" stroke-width="0.9" />
<text x="207.30" y="184.20" font-size="7" text-anchor="end" fill="#231f20" stroke="#231f20" stroke-width="0.15" >2</text>
<line x1="210.50" y1="191.90" x2="213.00" y2="191.90" stroke="#231f20" stroke-width="0.9" />
<text x="207.30" y="194.80" font-size="7" text-anchor="end" fill="#231f20" stroke="#231f20" stroke-width="0.15" textLength="7.8" lengthAdjust="spacingAndGlyphs" >T0</text>
<line x1="210.50" y1="202.50" x2="213.00" y2="202.50" stroke="#231f20" stroke-width="0.9" />
<text x="207.30" y="205.40" font-size="7" text-anchor="end" fill="#231f20" stroke="#231f20" stroke-width="0.15" >0</text>
<line x1="227.55" y1="202.50" x2="227.55" y2="204.50" stroke="#231f20" stroke-width="0.9" />
<line x1="251.90" y1="202.50" x2="251.90" y2="204.50" stroke="#231f20" stroke-width="0.9" />
<text x="227.55" y="215.00" font-size="7" text-anchor="middle" fill="#231f20" stroke="#231f20" stroke-width="0.15" >Progr</text>
<text x="251.90" y="215.00" font-size="7" text-anchor="middle" fill="#231f20" stroke="#231f20" stroke-width="0.15" >CR</text>
<line x1="285.00" y1="191.90" x2="338.00" y2="191.90" stroke="#555" stroke-width="1.0" stroke-dasharray="3,2.2"/>
<rect x="293.30" y="155.86" width="12.50" height="46.64" fill="#1c5a9a"/>
<line x1="299.55" y1="155.86" x2="299.55" y2="144.73" stroke="#555" stroke-width="1.1" />
<line x1="295.15" y1="144.73" x2="303.95" y2="144.73" stroke="#555" stroke-width="1.1" />
<rect x="318.30" y="184.48" width="12.20" height="18.02" fill="#c8102e"/>
<line x1="324.40" y1="184.48" x2="324.40" y2="169.96" stroke="#555" stroke-width="1.1" />
<line x1="320.00" y1="169.96" x2="328.80" y2="169.96" stroke="#555" stroke-width="1.1" />
<polyline points="299.8,145.0 299.8,131.0 324.6,131.0 324.6,170.0" fill="none" stroke="#555" stroke-width="1.0"/>
<text x="312.20" y="126.50" font-size="7" text-anchor="middle" fill="#231f20" stroke="#231f20" stroke-width="0.15" textLength="17.5" lengthAdjust="spacingAndGlyphs" >*0.05</text>
<line x1="285.00" y1="114.50" x2="285.00" y2="202.90" stroke="#231f20" stroke-width="1.1" />
<line x1="284.50" y1="202.50" x2="338.00" y2="202.50" stroke="#231f20" stroke-width="1.2" />
<line x1="282.50" y1="117.70" x2="285.00" y2="117.70" stroke="#231f20" stroke-width="0.9" />
<text x="279.30" y="120.60" font-size="7" text-anchor="end" fill="#231f20" stroke="#231f20" stroke-width="0.15" >8</text>
<line x1="282.50" y1="138.90" x2="285.00" y2="138.90" stroke="#231f20" stroke-width="0.9" />
<text x="279.30" y="141.80" font-size="7" text-anchor="end" fill="#231f20" stroke="#231f20" stroke-width="0.15" >6</text>
<line x1="282.50" y1="160.10" x2="285.00" y2="160.10" stroke="#231f20" stroke-width="0.9" />
<text x="279.30" y="163.00" font-size="7" text-anchor="end" fill="#231f20" stroke="#231f20" stroke-width="0.15" >4</text>
<line x1="282.50" y1="181.30" x2="285.00" y2="181.30" stroke="#231f20" stroke-width="0.9" />
<text x="279.30" y="184.20" font-size="7" text-anchor="end" fill="#231f20" stroke="#231f20" stroke-width="0.15" >2</text>
<line x1="282.50" y1="191.90" x2="285.00" y2="191.90" stroke="#231f20" stroke-width="0.9" />
<text x="279.30" y="194.80" font-size="7" text-anchor="end" fill="#231f20" stroke="#231f20" stroke-width="0.15" textLength="7.8" lengthAdjust="spacingAndGlyphs" >T0</text>
<line x1="282.50" y1="202.50" x2="285.00" y2="202.50" stroke="#231f20" stroke-width="0.9" />
<text x="279.30" y="205.40" font-size="7" text-anchor="end" fill="#231f20" stroke="#231f20" stroke-width="0.15" >0</text>
<line x1="299.55" y1="202.50" x2="299.55" y2="204.50" stroke="#231f20" stroke-width="0.9" />
<line x1="324.40" y1="202.50" x2="324.40" y2="204.50" stroke="#231f20" stroke-width="0.9" />
<text x="299.55" y="215.00" font-size="7" text-anchor="middle" fill="#231f20" stroke="#231f20" stroke-width="0.15" >Progr</text>
<text x="324.40" y="215.00" font-size="7" text-anchor="middle" fill="#231f20" stroke="#231f20" stroke-width="0.15" >CR</text>
<text x="239.50" y="226.60" font-size="8.6" text-anchor="middle" fill="#231f20" font-weight="bold" textLength="29.8" lengthAdjust="spacingAndGlyphs" >NKTR-255</text>
<text x="311.90" y="226.60" font-size="8.6" text-anchor="middle" fill="#231f20" font-weight="bold" textLength="13.9" lengthAdjust="spacingAndGlyphs" >IL-15</text>
<text x="182.50" y="160.00" font-size="7.0" text-anchor="middle" fill="#231f20" font-weight="bold" stroke="#231f20" stroke-width="0.3" textLength="56.2" lengthAdjust="spacingAndGlyphs" transform="rotate(-90 182.50 160.00)" >NKG2D+ NK cells:</text>
<text x="194.20" y="157.60" font-size="8.3" text-anchor="middle" fill="#231f20" stroke="#231f20" stroke-width="0.45" textLength="82.8" lengthAdjust="spacingAndGlyphs" transform="rotate(-90 194.20 157.60)" >Fold change compared to T0</text>
<text x="363.50" y="113.80" font-size="10.8" text-anchor="start" fill="#000" font-weight="bold" >E</text>
<line x1="398.80" y1="161.85" x2="480.00" y2="161.85" stroke="#222" stroke-width="1.3" stroke-dasharray="3.2,2.4"/>
<rect x="403.00" y="157.90" width="5.80" height="23.70" fill="#5b2a83"/>
<line x1="405.90" y1="157.90" x2="405.90" y2="154.54" stroke="#231f20" stroke-width="0.9" />
<line x1="403.70" y1="154.54" x2="408.10" y2="154.54" stroke="#231f20" stroke-width="0.9" />
<rect x="412.50" y="159.88" width="5.50" height="21.72" fill="#1c5a9a"/>
<line x1="415.25" y1="159.88" x2="415.25" y2="153.56" stroke="#231f20" stroke-width="0.9" />
<line x1="413.05" y1="153.56" x2="417.45" y2="153.56" stroke="#231f20" stroke-width="0.9" />
<rect x="421.80" y="151.97" width="5.70" height="29.62" fill="#3cb44a"/>
<line x1="424.65" y1="151.97" x2="424.65" y2="143.48" stroke="#231f20" stroke-width="0.9" />
<line x1="422.45" y1="143.48" x2="426.85" y2="143.48" stroke="#231f20" stroke-width="0.9" />
<rect x="430.80" y="174.69" width="5.50" height="6.91" fill="#c8102e"/>
<line x1="433.55" y1="174.69" x2="433.55" y2="169.75" stroke="#231f20" stroke-width="0.9" />
<line x1="431.35" y1="169.75" x2="435.75" y2="169.75" stroke="#231f20" stroke-width="0.9" />
<rect x="445.00" y="156.32" width="5.50" height="25.28" fill="#5b2a83"/>
<line x1="447.75" y1="156.32" x2="447.75" y2="150.79" stroke="#231f20" stroke-width="0.9" />
<line x1="445.55" y1="150.79" x2="449.95" y2="150.79" stroke="#231f20" stroke-width="0.9" />
<rect x="454.30" y="161.85" width="5.20" height="19.75" fill="#1c5a9a"/>
<rect x="463.30" y="156.52" width="5.50" height="25.08" fill="#3cb44a"/>
<rect x="472.50" y="181.60" width="5.50" height="12.44" fill="#c8102e"/>
<line x1="398.80" y1="118.30" x2="398.80" y2="201.80" stroke="#231f20" stroke-width="1.1" />
<line x1="398.80" y1="181.60" x2="480.00" y2="181.60" stroke="#231f20" stroke-width="1.4" />
<line x1="398.30" y1="201.40" x2="479.50" y2="201.40" stroke="#231f20" stroke-width="1.2" />
<line x1="396.30" y1="122.35" x2="398.80" y2="122.35" stroke="#231f20" stroke-width="0.9" />
<text x="392.60" y="124.85" font-size="7" text-anchor="end" fill="#231f20" stroke="#231f20" stroke-width="0.15" >3</text>
<line x1="396.30" y1="142.10" x2="398.80" y2="142.10" stroke="#231f20" stroke-width="0.9" />
<text x="392.60" y="144.60" font-size="7" text-anchor="end" fill="#231f20" stroke="#231f20" stroke-width="0.15" >2</text>
<line x1="396.30" y1="161.85" x2="398.80" y2="161.85" stroke="#231f20" stroke-width="0.9" />
<text x="392.60" y="164.35" font-size="7" text-anchor="end" fill="#231f20" stroke="#231f20" stroke-width="0.15" >1</text>
<line x1="396.30" y1="181.60" x2="398.80" y2="181.60" stroke="#231f20" stroke-width="0.9" />
<text x="392.60" y="184.10" font-size="7" text-anchor="end" fill="#231f20" stroke="#231f20" stroke-width="0.15" >0</text>
<line x1="396.30" y1="201.35" x2="398.80" y2="201.35" stroke="#231f20" stroke-width="0.9" />
<text x="392.60" y="203.85" font-size="7" text-anchor="end" fill="#231f20" stroke="#231f20" stroke-width="0.15" textLength="8.6" lengthAdjust="spacingAndGlyphs" >–1</text>
<line x1="419.60" y1="201.40" x2="419.60" y2="203.60" stroke="#231f20" stroke-width="0.9" />
<text x="419.60" y="213.80" font-size="7" text-anchor="middle" fill="#231f20" stroke="#231f20" stroke-width="0.15" >5</text>
<line x1="461.30" y1="201.40" x2="461.30" y2="203.60" stroke="#231f20" stroke-width="0.9" />
<text x="461.30" y="213.80" font-size="7" text-anchor="middle" fill="#231f20" stroke="#231f20" stroke-width="0.15" >7</text>
<text x="439.60" y="226.00" font-size="8.5" text-anchor="middle" fill="#231f20" stroke="#231f20" stroke-width="0.35" textLength="35" lengthAdjust="spacingAndGlyphs" >Time (days)</text>
<text x="370.30" y="159.10" font-size="7.9" text-anchor="middle" fill="#231f20" stroke="#231f20" stroke-width="0.45" textLength="64" lengthAdjust="spacingAndGlyphs" transform="rotate(-90 370.30 159.10)" >Fold change compared</text>
<text x="382.60" y="159.50" font-size="7.9" text-anchor="middle" fill="#231f20" stroke="#231f20" stroke-width="0.45" textLength="38.5" lengthAdjust="spacingAndGlyphs" transform="rotate(-90 382.60 159.50)" >with baseline</text>
<rect x="475.80" y="116.20" width="4.50" height="4.50" fill="#c8102e"/>
<text x="483.70" y="120.70" font-size="6.6" text-anchor="start" fill="#231f20" stroke="#231f20" stroke-width="0.15" textLength="25.0" lengthAdjust="spacingAndGlyphs" >NKG2A</text>
<rect x="475.80" y="126.15" width="4.50" height="4.50" fill="#5b2a83"/>
<text x="483.70" y="130.65" font-size="6.6" text-anchor="start" fill="#231f20" stroke="#231f20" stroke-width="0.15" textLength="17.6" lengthAdjust="spacingAndGlyphs" >LAG3</text>
<rect x="475.80" y="136.10" width="4.50" height="4.50" fill="#1c5a9a"/>
<text x="483.70" y="140.60" font-size="6.6" text-anchor="start" fill="#231f20" stroke="#231f20" stroke-width="0.15" textLength="36.0" lengthAdjust="spacingAndGlyphs" >KIR2DL2/3</text>
<rect x="475.80" y="146.05" width="4.50" height="4.50" fill="#3cb44a"/>
<text x="483.70" y="150.55" font-size="6.6" text-anchor="start" fill="#231f20" stroke="#231f20" stroke-width="0.15" textLength="17.2" lengthAdjust="spacingAndGlyphs" >TIGIT</text>
<text x="276.50" y="254.60" font-size="10.8" text-anchor="start" fill="#000" font-weight="bold" >F</text>
<path d="M296.40,274.50 C297.27,273.70 298.13,273.12 299.00,272.10 C300.00,270.92 301.00,268.90 302.00,267.10 C303.03,265.24 304.07,262.49 305.10,261.00 C305.97,259.75 306.83,258.00 307.70,258.00 C308.50,258.00 309.30,258.44 310.10,259.00 C310.90,259.56 311.70,262.48 312.50,264.10 C313.37,265.85 314.23,268.13 315.10,269.10 C316.43,270.58 317.77,271.40 319.10,272.10 C320.43,272.80 321.77,273.30 323.10,273.70 C324.47,274.11 325.83,274.70 327.20,274.70 C341.73,274.70 356.27,274.70 370.80,274.70" fill="none" stroke="#5b2a83" stroke-width="1.25" stroke-linejoin="round"/>
<path d="M296.40,284.20 C297.27,282.83 298.13,281.72 299.00,280.10 C300.00,278.23 301.00,275.10 302.00,273.10 C303.03,271.04 304.07,267.70 305.10,267.70 C305.97,267.70 306.83,268.94 307.70,270.10 C308.63,271.35 309.57,275.05 310.50,277.10 C311.37,279.00 312.23,281.33 313.10,282.20 C314.10,283.21 315.10,283.83 316.10,284.20 C317.43,284.70 318.77,285.20 320.10,285.20 C337.00,285.20 353.90,285.20 370.80,285.20" fill="none" stroke="#3cb44a" stroke-width="1.25" stroke-linejoin="round"/>
<path d="M296.40,294.20 C297.27,292.53 298.13,291.02 299.00,289.20 C300.00,287.10 301.00,283.95 302.00,282.20 C303.23,280.04 304.47,277.10 305.70,277.10 C306.50,277.10 307.30,278.10 308.10,279.10 C309.10,280.35 310.10,284.90 311.10,287.20 C312.10,289.50 313.10,292.38 314.10,293.20 C315.43,294.30 316.77,295.20 318.10,295.20 C335.67,295.20 353.23,295.20 370.80,295.20" fill="none" stroke="#f7a21b" stroke-width="1.25" stroke-linejoin="round"/>
<path d="M296.40,305.30 C297.27,304.13 298.13,303.21 299.00,301.80 C300.33,299.63 301.67,295.64 303.00,293.20 C304.03,291.31 305.07,288.20 306.10,288.20 C306.90,288.20 307.70,289.16 308.50,290.20 C309.37,291.33 310.23,296.15 311.10,298.20 C312.10,300.56 313.10,303.38 314.10,303.90 C315.77,304.77 317.43,305.02 319.10,305.30 C320.80,305.58 322.50,305.90 324.20,305.90 C339.73,305.90 355.27,305.90 370.80,305.90" fill="none" stroke="#1c5a9a" stroke-width="1.25" stroke-linejoin="round"/>
<path d="M296.40,316.30 C298.43,316.23 300.47,316.26 302.50,316.10 C303.00,316.06 303.50,312.34 304.00,310.30 C304.70,307.45 305.40,301.20 306.10,301.20 C306.63,301.20 307.17,301.69 307.70,302.30 C308.37,303.06 309.03,308.32 309.70,310.30 C310.50,312.68 311.30,315.60 312.10,315.90 C312.73,316.14 313.37,316.30 314.00,316.30 C332.93,316.30 351.87,316.30 370.80,316.30" fill="none" stroke="#c8102e" stroke-width="1.25" stroke-linejoin="round"/>
<rect x="296.40" y="254.40" width="75.00" height="62.30" fill="none" stroke="#2a2a2a" stroke-width="1.3"/>
<line x1="296.40" y1="316.70" x2="371.40" y2="316.70" stroke="#5a1822" stroke-width="1.4" />
<text x="330.60" y="262.90" font-size="6.3" text-anchor="start" fill="#231f20" stroke="#231f20" stroke-width="0.15" textLength="21.5" lengthAdjust="spacingAndGlyphs" >NKG2A</text>
<line x1="299.40" y1="316.70" x2="299.40" y2="318.40" stroke="#231f20" stroke-width="0.6" />
<line x1="302.40" y1="316.70" x2="302.40" y2="318.40" stroke="#231f20" stroke-width="0.6" />
<line x1="304.90" y1="316.70" x2="304.90" y2="318.40" stroke="#231f20" stroke-width="0.6" />
<line x1="307.40" y1="316.70" x2="307.40" y2="318.40" stroke="#231f20" stroke-width="0.6" />
<line x1="309.40" y1="316.70" x2="309.40" y2="318.40" stroke="#231f20" stroke-width="0.6" />
<line x1="310.90" y1="316.70" x2="310.90" y2="318.40" stroke="#231f20" stroke-width="0.6" />
<line x1="316.40" y1="316.70" x2="316.40" y2="318.40" stroke="#231f20" stroke-width="0.6" />
<line x1="321.40" y1="316.70" x2="321.40" y2="318.40" stroke="#231f20" stroke-width="0.6" />
<line x1="324.40" y1="316.70" x2="324.40" y2="318.40" stroke="#231f20" stroke-width="0.6" />
<line x1="327.40" y1="316.70" x2="327.40" y2="318.40" stroke="#231f20" stroke-width="0.6" />
<line x1="331.40" y1="316.70" x2="331.40" y2="318.40" stroke="#231f20" stroke-width="0.6" />
<line x1="336.40" y1="316.70" x2="336.40" y2="318.40" stroke="#231f20" stroke-width="0.6" />
<line x1="340.40" y1="316.70" x2="340.40" y2="318.40" stroke="#231f20" stroke-width="0.6" />
<line x1="344.40" y1="316.70" x2="344.40" y2="318.40" stroke="#231f20" stroke-width="0.6" />
<line x1="348.40" y1="316.70" x2="348.40" y2="318.40" stroke="#231f20" stroke-width="0.6" />
<line x1="353.40" y1="316.70" x2="353.40" y2="318.40" stroke="#231f20" stroke-width="0.6" />
<line x1="357.40" y1="316.70" x2="357.40" y2="318.40" stroke="#231f20" stroke-width="0.6" />
<line x1="360.40" y1="316.70" x2="360.40" y2="318.40" stroke="#231f20" stroke-width="0.6" />
<line x1="363.40" y1="316.70" x2="363.40" y2="318.40" stroke="#231f20" stroke-width="0.6" />
<line x1="366.40" y1="316.70" x2="366.40" y2="318.40" stroke="#231f20" stroke-width="0.6" />
<line x1="369.40" y1="316.70" x2="369.40" y2="318.40" stroke="#231f20" stroke-width="0.6" />
<text x="302.90" y="325.60" font-size="6.0" fill="#231f20" stroke="#231f20" stroke-width="0.2">0</text>
<text x="307.70" y="325.60" font-size="6.0" fill="#231f20" stroke="#231f20" stroke-width="0.2">10<tspan font-size="3.9" dy="-2.7" stroke-width="0.1">2</tspan></text>
<text x="326.40" y="325.60" font-size="6.0" fill="#231f20" stroke="#231f20" stroke-width="0.2">10<tspan font-size="3.9" dy="-2.7" stroke-width="0.1">3</tspan></text>
<text x="343.40" y="325.60" font-size="6.0" fill="#231f20" stroke="#231f20" stroke-width="0.2">10<tspan font-size="3.9" dy="-2.7" stroke-width="0.1">4</tspan></text>
<text x="360.20" y="325.60" font-size="6.0" fill="#231f20" stroke="#231f20" stroke-width="0.2">10<tspan font-size="3.9" dy="-2.7" stroke-width="0.1">5</tspan></text>
<rect x="378.10" y="272.20" width="4.50" height="4.70" fill="#5b2a83"/>
<text x="385.50" y="276.60" font-size="6.6" text-anchor="start" fill="#231f20" stroke="#231f20" stroke-width="0.15" textLength="56.0" lengthAdjust="spacingAndGlyphs" >rh-IL15 0.1µg/mL</text>
<rect x="378.10" y="282.90" width="4.50" height="4.70" fill="#3cb44a"/>
<text x="385.50" y="287.30" font-size="6.6" text-anchor="start" fill="#231f20" stroke="#231f20" stroke-width="0.15" textLength="61.0" lengthAdjust="spacingAndGlyphs" >NKTR-255 1µg/mL</text>
<rect x="378.10" y="292.80" width="4.50" height="4.70" fill="#f7a21b"/>
<text x="385.50" y="297.20" font-size="6.6" text-anchor="start" fill="#231f20" stroke="#231f20" stroke-width="0.15" textLength="67.2" lengthAdjust="spacingAndGlyphs" >NKTR-255 0.1µg/mL</text>
<rect x="378.10" y="303.50" width="4.50" height="4.70" fill="#1c5a9a"/>
<text x="385.50" y="307.90" font-size="6.6" text-anchor="start" fill="#231f20" stroke="#231f20" stroke-width="0.15" textLength="55.2" lengthAdjust="spacingAndGlyphs" >Untreated control</text>
<rect x="378.10" y="313.40" width="4.50" height="4.70" fill="#c8102e"/>
<text x="385.50" y="317.80" font-size="6.6" text-anchor="start" fill="#231f20" stroke="#231f20" stroke-width="0.15" textLength="47.0" lengthAdjust="spacingAndGlyphs" >Isotype control</text>
</svg>
</body></html>
